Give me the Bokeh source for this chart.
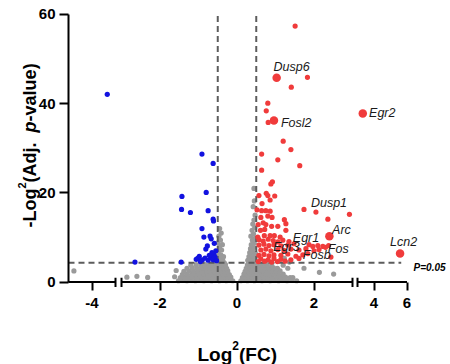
import math
from bokeh.plotting import figure
from bokeh.models import Range1d, FixedTicker
from bokeh.embed import file_html
from bokeh.resources import INLINE
from bokeh.core.properties import value

# ---------------- data ----------------
X_TICKS = [-4, -2, 0, 2, 4, 6]
X_TICK_LABELS = ["-4", "-2", "0", "2", "4", "6"]
Y_TICKS = [0, 20, 40, 60]

FC_CUT = 0.5          # |log2 FC| threshold
P_CUT = 4.32          # -log2(0.05)
P_LINE_END = 5.65
P_TEXT = "P=0.05"

# significant up-regulated (red)
UP_X = [1.51, 1.83, 1.41, 0.80, 0.76, 0.81, 1.20, 1.40, 0.64, 1.06, 0.64, 1.63,
        0.92, 0.88, 0.76, 0.80, 0.57, 0.86, 0.98, 0.65, 0.52, 0.64, 0.75, 0.86,
        1.74, 2.05, 2.92, 0.80, 0.91, 0.62, 1.23, 2.36, 0.68, 0.75, 1.27, 0.55,
        0.61, 0.72, 0.90, 1.06, 1.27, 0.71, 0.86, 0.97, 1.12, 0.54,
        0.57, 0.68, 0.81, 0.94, 1.06, 1.19, 1.35,
        0.57, 0.70, 0.83, 0.96, 1.14, 1.32, 1.48, 1.87, 1.97, 2.10, 2.23, 2.30, 2.38,
        0.62, 0.75, 0.88, 1.06, 1.22, 1.40, 1.61, 1.79, 2.00, 2.13,
        0.57, 0.70, 0.83, 0.96, 1.14, 1.32, 1.53, 1.71, 1.84,
        0.62, 0.81, 0.96, 1.14, 1.40, 1.61, 2.44,
        0.55, 0.72, 0.90, 1.05, 1.25]
UP_Y = [57.4, 45.9, 43.7, 40.1, 38.4, 35.8, 31.6, 29.7, 28.7, 27.4, 25.1, 26.1,
        22.5, 22.0, 19.9, 19.4, 19.4, 18.4, 19.3, 17.6, 16.2, 16.0, 16.0, 15.9,
        16.3, 15.7, 15.2, 14.8, 14.5, 14.5, 14.0, 14.1, 13.3, 12.9, 13.1, 12.9,
        11.6, 11.8, 12.5, 12.5, 11.6, 10.4, 10.4, 10.4, 10.1, 10.1,
        9.5, 9.2, 9.6, 9.3, 9.0, 9.4, 9.1,
        8.3, 8.5, 8.2, 8.4, 8.1, 8.3, 8.6, 8.4, 8.0, 8.2, 8.0, 7.8, 8.2,
        7.2, 7.4, 7.0, 7.3, 7.1, 7.4, 7.2, 7.5, 7.0, 7.3,
        6.0, 6.2, 5.9, 6.1, 6.0, 6.3, 5.8, 6.1, 6.4,
        5.2, 5.0, 5.3, 5.1, 5.0, 5.3, 5.6,
        4.6, 4.7, 4.5, 4.6, 4.7]

# significant down-regulated (blue)
DOWN_X = [-3.35, -0.91, -0.62, -1.43, -0.80, -1.44, -1.21, -0.75, -0.62, -0.61,
          -0.91, -0.86, -0.70, -0.67, -0.59, -0.77, -0.81, -0.98, -1.02, -1.06,
          -0.90, -0.83, -0.75, -0.68, -0.62, -0.57, -0.53, -0.60, -0.55, -0.65,
          -0.95, -0.72, -1.45, -2.65]
DOWN_Y = [42.1, 28.7, 26.6, 19.2, 20.1, 16.3, 15.6, 16.0, 14.1, 13.7,
          12.0, 10.1, 10.3, 9.7, 8.7, 8.1, 7.4, 5.8, 5.3, 5.1,
          5.0, 5.4, 4.9, 5.5, 5.0, 5.6, 4.8, 6.2, 7.0, 6.6,
          4.6, 6.0, 4.5, 4.5]

# not significant (grey)
NS_X = [-1.52, -1.41, -1.30, -1.19, -1.08, -0.97, -0.86, -0.76, -0.66, -0.56, -0.46, -0.37,
        -0.28, -0.19, -0.11, 0.10, 0.18, 0.27, 0.36, 0.45, 0.55, 0.65, 0.75, 0.86, 0.97,
        1.08, 1.19, 1.30, 1.42, 1.55,
        -1.47, -1.36, -1.25, -1.14, -1.03, -0.92, -0.81, -0.71, -0.61, -0.51, -0.42, -0.33,
        -0.24, -0.16, 0.14, 0.22, 0.31, 0.40, 0.50, 0.60, 0.70, 0.81, 0.92, 1.03, 1.14,
        1.26, 1.38,
        -1.42, -1.30, -1.18, -1.07, -0.96, -0.85, -0.75, -0.65, -0.55, -0.46, -0.37, -0.28,
        -0.20, 0.18, 0.26, 0.35, 0.44, 0.54, 0.64, 0.74, 0.85, 0.96, 1.08, 1.20,
        -1.38, -1.25, -1.13, -1.01, -0.90, -0.79, -0.69, -0.59, -0.50, -0.41, -0.32, -0.24,
        0.21, 0.30, 0.39, 0.48, 0.58, 0.68, 0.79, 0.90, 1.02, 1.12,
        -1.30, -1.16, -1.04, -0.92, -0.81, -0.71, -0.61, -0.52, -0.43, -0.35, -0.27,
        0.24, 0.33, 0.42, 0.51, 0.61, 0.72, 0.83, 0.95, 1.05,
        -1.20, -1.06, -0.94, -0.83, -0.73, -0.63, -0.54, -0.45, -0.37, -0.30,
        0.27, 0.36, 0.45, 0.55, 0.66, 0.78, 0.90,
        -0.55, -0.47, -0.40, -0.33, 0.30, 0.38, 0.46, 0.53, 0.70,
        -0.52, -0.44, -0.37, -0.50, -0.42, -0.35, -0.48, -0.40, -0.45, -0.38, -0.50,
        -0.43, -0.47, -0.41, -0.45,
        0.28, 0.36, 0.44, 0.31, 0.39, 0.47, 0.33, 0.41, 0.48, 0.35, 0.43, 0.37, 0.45,
        0.40, 0.47, 0.36, 0.43, 0.39, 0.46, 0.41, 0.44, 0.47, 0.42, 0.45, 0.44,
        -4.77, -2.86, -2.60, -2.32, -1.62, -1.58, 1.23, 1.36, 1.20, 1.32, 1.45, 1.74,
        2.14, 2.51]
NS_Y = [0.3, 0.5, 0.3, 0.5, 0.3, 0.5, 0.3, 0.5, 0.3, 0.5, 0.3, 0.5,
        0.3, 0.5, 0.3, 0.3, 0.5, 0.3, 0.5, 0.3, 0.5, 0.3, 0.5, 0.3, 0.5,
        0.3, 0.5, 0.3, 0.5, 0.3,
        1.0, 1.1, 1.0, 1.1, 1.0, 1.1, 1.0, 1.1, 1.0, 1.1, 1.0, 1.1,
        1.0, 1.1, 1.0, 1.1, 1.0, 1.1, 1.0, 1.1, 1.0, 1.1, 1.0, 1.1, 1.0,
        1.1, 1.0,
        1.7, 1.8, 1.7, 1.8, 1.7, 1.8, 1.7, 1.8, 1.7, 1.8, 1.7, 1.8,
        1.7, 1.8, 1.7, 1.8, 1.7, 1.8, 1.7, 1.8, 1.7, 1.8, 1.7, 1.8,
        2.4, 2.5, 2.4, 2.5, 2.4, 2.5, 2.4, 2.5, 2.4, 2.5, 2.4, 2.5,
        2.4, 2.5, 2.4, 2.5, 2.4, 2.5, 2.4, 2.5, 2.4, 2.5,
        3.1, 3.2, 3.1, 3.2, 3.1, 3.2, 3.1, 3.2, 3.1, 3.2, 3.1,
        3.1, 3.2, 3.1, 3.2, 3.1, 3.2, 3.1, 3.2, 3.1,
        3.8, 3.9, 3.8, 3.9, 3.8, 3.9, 3.8, 3.9, 3.8, 3.9,
        3.8, 3.9, 3.8, 3.9, 3.8, 3.9, 3.8,
        4.4, 4.3, 4.4, 4.3, 4.4, 4.3, 4.4, 4.3, 4.2,
        5.0, 5.2, 4.9, 5.9, 6.1, 5.7, 6.9, 7.2, 8.0, 8.4, 8.8,
        9.4, 10.3, 11.0, 12.0,
        4.9, 5.1, 4.8, 5.7, 5.9, 5.6, 6.6, 6.8, 6.4, 7.5, 7.7, 8.4, 8.7,
        9.4, 9.8, 10.3, 10.8, 11.6, 12.2, 13.0, 13.9, 15.0, 16.9, 18.2, 21.0,
        2.5, 1.1, 1.3, 1.05, 1.2, 2.6, 5.3, 4.5, 3.8, 3.1, 1.0, 3.1,
        2.2, 1.8]

# highlighted genes (larger markers)
HL_GENES = ["Dusp6", "Fosl2", "Egr2", "Arc", "Lcn2"]
HL_X = [1.03, 0.96, 3.32, 2.40, 5.58]
HL_Y = [45.8, 36.2, 37.8, 10.3, 6.4]

# gene name annotations (left end of baseline)
LBL_TEXT = ["Dusp6", "Fosl2", "Egr2", "Dusp1", "Arc", "Egr1", "Egr3", "Fos", "Fosb", "Lcn2"]
LBL_X = [0.95, 1.14, 3.70, 1.92, 2.47, 1.45, 0.94, 2.36, 1.71, 4.97]
LBL_Y = [47.5, 35.1, 37.2, 17.0, 11.0, 9.2, 7.2, 6.7, 5.4, 8.3]

# ---------------- broken x axis ----------------
SEGMENTS = [(-5.0, -3.0), (-3.0, 3.0), (3.0, 6.0)]
SEG_SCALE = [23.5, 38.5, 16.5]   # screen px per x unit in each piece
SEG_GAP = [6.0, 5.0]             # px gap between pieces
SEG_START = [0.0]
for i in range(1, len(SEGMENTS)):
    a, b = SEGMENTS[i - 1]
    SEG_START.append(SEG_START[-1] + (b - a) * SEG_SCALE[i - 1] + SEG_GAP[i - 1])


def seg_of(x):
    if x < SEGMENTS[0][1]:
        return 0
    if x <= SEGMENTS[1][1]:
        return 1
    return 2


def brk(x, seg=None):
    i = seg_of(x) if seg is None else seg
    return SEG_START[i] + (x - SEGMENTS[i][0]) * SEG_SCALE[i]


def bx(xs):
    return [brk(x) for x in xs]


# ---------------- canvas / frame geometry ----------------
FONT = "Liberation Sans"
W, H = 450, 364
PAGE_OFF = 0                 # the page template has no body margin
AXIS_LEFT_PAGE = 68.0        # page x of the y axis (x = -5)
Y0_PAGE = 281.6              # page y of y = 0
PX_PER_Y = 4.461
TEXT_DROP = 3.0              # rendered baseline sits this many px below the anchor

X_LO = PAGE_OFF - AXIS_LEFT_PAGE
X_HI = X_LO + W
Y_HI = (Y0_PAGE - PAGE_OFF) / PX_PER_Y
Y_LO = (Y0_PAGE - (PAGE_OFF + H)) / PX_PER_Y


def page_to_data(px, py):
    return px - AXIS_LEFT_PAGE, (Y0_PAGE - py) / PX_PER_Y


p = figure(width=W, height=H, output_backend="svg", toolbar_location=None,
           x_range=Range1d(X_LO, X_HI), y_range=Range1d(Y_LO, Y_HI),
           min_border=0, min_border_left=0, min_border_right=0, min_border_top=0,
           min_border_bottom=0)
p.outline_line_color = None
p.xgrid.visible = False
p.ygrid.visible = False
p.background_fill_color = "white"
p.border_fill_color = "white"

# axes (fixed inside the frame)
xa = p.xaxis[0]
xa.fixed_location = 0
xa.ticker = FixedTicker(ticks=[brk(t) for t in X_TICKS])
xa.major_label_overrides = {brk(t): lab for t, lab in zip(X_TICKS, X_TICK_LABELS)}
xa.axis_line_color = None
xa.major_tick_in = 0
xa.major_tick_out = 8
xa.major_tick_line_width = 2
xa.major_tick_line_color = "black"
xa.minor_tick_line_color = None
xa.major_label_standoff = 8
xa.major_label_text_font = FONT
xa.major_label_text_font_style = "bold"
xa.major_label_text_font_size = "15px"
xa.major_label_text_color = "black"

ya = p.yaxis[0]
ya.fixed_location = brk(SEGMENTS[0][0])
ya.ticker = FixedTicker(ticks=Y_TICKS)
ya.bounds = (0, 60)
ya.axis_line_width = 2
ya.axis_line_color = "black"
ya.major_tick_in = 0
ya.major_tick_out = 9
ya.major_tick_line_width = 2
ya.minor_tick_line_color = None
ya.major_label_standoff = 4
ya.major_label_text_font = FONT
ya.major_label_text_font_style = "bold"
ya.major_label_text_font_size = "15px"
ya.major_label_text_color = "black"

# grey cloud
p.scatter(bx(NS_X), NS_Y, size=5.2, color="#9a9a9a", line_color=None)

# threshold lines
DASH_COL = "#5c5c5c"
p.segment(x0=[brk(-FC_CUT), brk(FC_CUT)], y0=[0, 0], x1=[brk(-FC_CUT), brk(FC_CUT)], y1=[60, 60],
          line_color=DASH_COL, line_width=2, line_dash="6 4")
p.segment(x0=[brk(SEGMENTS[0][0])], y0=[P_CUT], x1=[brk(P_LINE_END)], y1=[P_CUT],
          line_color=DASH_COL, line_width=2, line_dash="6 4")

# significant points
p.scatter(bx(DOWN_X), DOWN_Y, size=5.2, color="#1212e0", line_color=None)
p.scatter(bx(UP_X), UP_Y, size=5.2, color="#f03b3b", line_color=None)
p.scatter(bx(HL_X), HL_Y, size=8.5, color="#f03b3b", line_color=None)

# gene names
dy_txt = TEXT_DROP / PX_PER_Y
p.text(bx(LBL_X), [y + dy_txt for y in LBL_Y], text=LBL_TEXT, text_font=value(FONT),
       text_font_style="italic", text_font_size="12.5px", text_color="#1a1a1a",
       text_baseline="alphabetic", text_align="left")
p.text([brk(6.4, seg=2)], [2.6 + dy_txt], text=[P_TEXT], text_font=value(FONT),
       text_font_style="bold italic", text_font_size="10px", text_color="black",
       text_baseline="alphabetic", text_align="left")

# broken x-axis line with break marks
ax_x0, ax_x1, mk_x = [], [], []
for i, (a, b) in enumerate(SEGMENTS):
    ax_x0.append(brk(a, seg=i))
    ax_x1.append(brk(b, seg=i))
    if i > 0:
        mk_x.append(brk(a, seg=i))
    if i < len(SEGMENTS) - 1:
        mk_x.append(brk(b, seg=i))
p.segment(x0=ax_x0, y0=[0] * 3, x1=ax_x1, y1=[0] * 3, line_color="black", line_width=2)
p.segment(x0=mk_x, y0=[-1.1] * len(mk_x), x1=mk_x, y1=[1.0] * len(mk_x),
          line_color="black", line_width=2)

# axis titles composed of pieces (superscript / italic)
ADV = {'-': 0.333, 'L': 0.611, 'o': 0.611, 'g': 0.611, '2': 0.556, ' ': 0.278, '(': 0.333,
       'A': 0.722, 'd': 0.611, 'j': 0.278, '.': 0.278, 'p': 0.611, 'v': 0.556, 'a': 0.556,
       'l': 0.278, 'u': 0.611, 'e': 0.556, ')': 0.333, 'F': 0.611, 'C': 0.722}


def tw(s, size):
    return sum(ADV.get(c, 0.6) for c in s) * size


def add_piece(px, py, txt, size, style, angle=0.0):
    dx, dy = page_to_data(px, py)
    p.text([dx], [dy], text=[txt], angle=angle, text_font=value(FONT),
           text_font_size=f"{size}px", text_font_style=style, text_color="black",
           text_align="left", text_baseline="alphabetic")


# x title: Log^2(FC)
cx, base = 197.0, 357.0 - TEXT_DROP
for txt, size, style, rise in [("Log", 19, "bold", 0), ("2", 12, "bold", 9), ("(FC)", 19, "bold", 0)]:
    add_piece(cx, base - rise, txt, size, style)
    cx += tw(txt, size)

# y title: -Log^2 (Adj. p-value), rotated
cy, basex = 227.0, 32.0 - TEXT_DROP
for txt, size, style, rise in [("-Log", 18, "bold", 0), ("2", 11, "bold", 8),
                               (" (Adj. ", 18, "bold", 0), ("p", 18, "bold italic", 0),
                               ("-value)", 18, "bold", 0)]:
    add_piece(basex - rise, cy, txt, size, style, angle=math.pi / 2)
    cy -= tw(txt, size)

open("out.html", "w").write(file_html(p, INLINE))
